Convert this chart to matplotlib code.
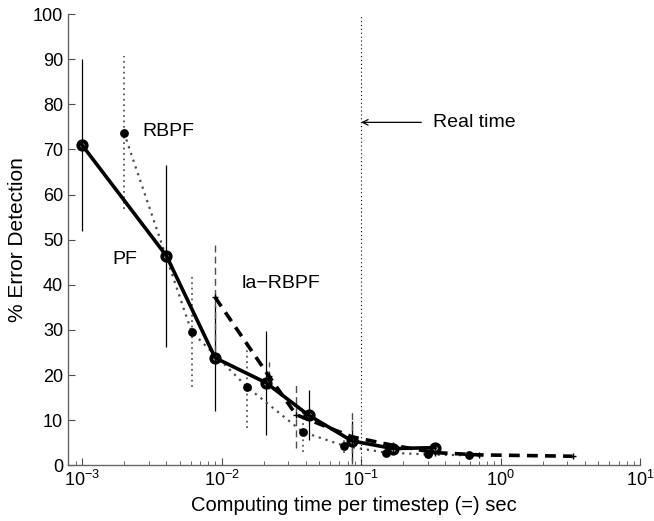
import matplotlib
matplotlib.use("Agg")
import matplotlib.pyplot as plt
import numpy as np

plt.rcParams["font.family"] = ["Liberation Sans", "DejaVu Sans"]
plt.rcParams["mathtext.fontset"] = "custom"
plt.rcParams["mathtext.rm"] = "Liberation Sans"
plt.rcParams["mathtext.it"] = "Liberation Sans:italic"

# PF (solid)
pf_t = np.array([0.001, 0.00403, 0.0090, 0.0208, 0.042, 0.086, 0.169, 0.338])
pf_err = np.array([71.0, 46.4, 23.8, 18.3, 11.1, 5.4, 3.7, 3.9])
pf_sd = np.array([19.0, 20.2, 11.8, 11.5, 5.5, 4.4, 0.8, 0.6])

# RBPF (dotted)
rb_t = np.array([0.002, 0.0061, 0.0153, 0.0381, 0.0756, 0.150, 0.30, 0.59])
rb_err = np.array([73.7, 29.6, 17.3, 7.4, 4.3, 2.8, 2.4, 2.2])
rb_sd = np.array([17.0, 12.3, 9.1, 4.4, 1.5, 0.8, 0.6, 0.4])

# la-RBPF (dashed)
la_t = np.array([0.0090, 0.0218, 0.0342, 0.086, 0.17, 0.34, 0.70, 3.27])
la_err = np.array([37.2, 19.8, 11.2, 6.3, 4.4, 2.8, 2.3, 2.0])
la_sd = np.array([12.2, 3.0, 7.3, 6.0, 1.0, 0.6, 0.4, 0.3])

fig = plt.figure(figsize=(6.54, 5.21), dpi=100)
ax = fig.add_axes([0.104, 0.107, 0.875, 0.866])

# error bars
ax.vlines(pf_t, pf_err - pf_sd, pf_err + pf_sd, colors="k", lw=0.9)
ax.vlines(rb_t, rb_err - rb_sd, rb_err + rb_sd, colors="0.35", lw=1.3,
          linestyles=[(0, (1, 2))])
ax.vlines(la_t, la_err - la_sd, la_err + la_sd, colors="0.3", lw=1.0,
          linestyles=[(0, (5, 3))])

# main curves
ax.plot(rb_t, rb_err, color="0.3", lw=1.6, ls=(0, (1, 2.2)),
        marker="o", ms=5.3, mfc="k", mec="k")
ax.plot(la_t, la_err, color="k", lw=2.6, ls=(0, (3, 2)),
        marker="+", ms=4, mew=1.0)
ax.plot(pf_t, pf_err, color="k", lw=2.6, marker="o", ms=6.0,
        mfc="none", mec="k", mew=2.8)

# real time marker
ax.axvline(0.1, color="k", lw=0.8, ls=(0, (1, 2.5)))
ax.annotate("", xy=(0.1, 76), xytext=(0.27, 76),
            arrowprops=dict(arrowstyle="->", color="k", lw=0.9,
                            shrinkA=0, shrinkB=0))
ax.text(0.33, 76, "Real time", fontsize=14, va="center", ha="left")

ax.text(0.00273, 74, "RBPF", fontsize=14, va="center")
ax.text(0.00166, 45.5, "PF", fontsize=14, va="center")
ax.text(0.0139, 40.2, "la\u2212RBPF", fontsize=14, va="center")

ax.set_xscale("log")
ax.set_xlim(10 ** -3.1, 10)
ax.set_ylim(0, 100)
ax.set_yticks(np.arange(0, 101, 10))
ax.set_xticks([1e-3, 1e-2, 1e-1, 1e0, 1e1])

ax.set_xlabel("Computing time per timestep (=) sec", fontsize=14.5)
ax.set_ylabel("% Error Detection", fontsize=15)

for s in ["top", "right"]:
    ax.spines[s].set_visible(False)
for s in ["left", "bottom"]:
    ax.spines[s].set_color("0.4")
    ax.spines[s].set_linewidth(1.0)
ax.tick_params(which="both", direction="in", color="0.3", labelsize=13,
               top=False, right=False)
ax.tick_params(which="major", length=5)
ax.tick_params(which="minor", length=3)

fig.savefig("out.png", dpi=100)
